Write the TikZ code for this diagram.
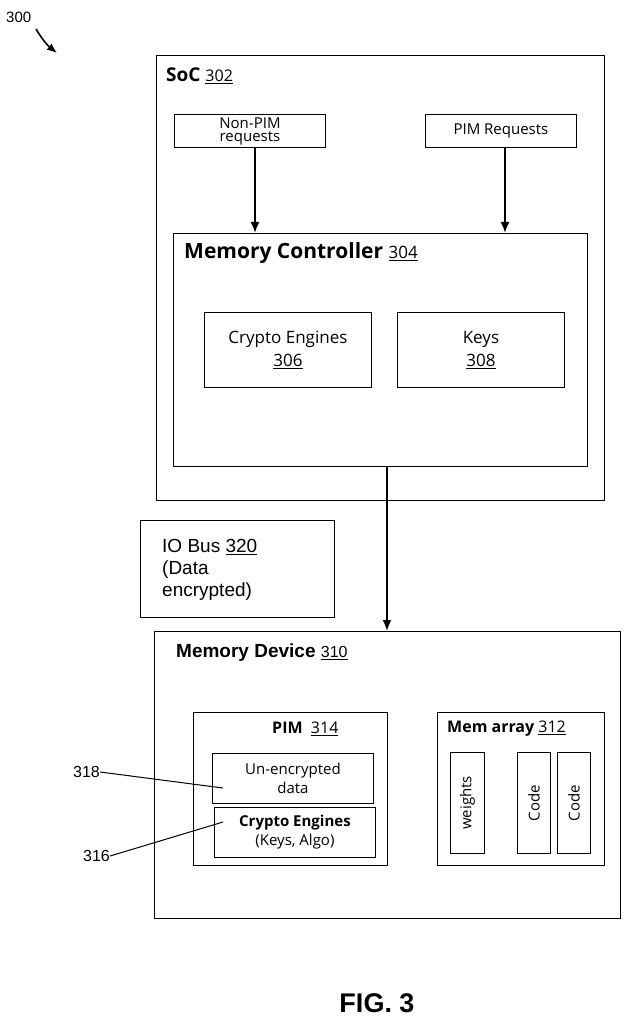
\documentclass[tikz,border=0pt]{standalone}
\usepackage{fontspec}
\usetikzlibrary{arrows.meta}
\setmainfont{Liberation Sans}
\newfontfamily\bx{Open Sans}
\begin{document}
\begin{tikzpicture}[x=1pt,y=-1pt,
  box/.style={draw,line width=0.9pt},
  arr/.style={-{Latex[length=11pt,width=9pt]},line width=1.8pt},
  lbl/.style={inner sep=0pt,anchor=west},
  txt/.style={align=center,inner sep=0pt}]
\useasboundingbox (0,0) rectangle (629,1024);
\node[lbl,font=\fontsize{15}{16}\selectfont] (n300) at (6,17) {300};
\coordinate (a300) at (57,53);
\draw[-{Latex[length=10pt,width=8pt]},line width=1.6pt] (36,29) to[bend right=10] (a300);
% SoC
\node[box,minimum width=448,minimum height=445,anchor=north west] (soc) at (156,55) {};
\node[lbl,font=\bx\fontsize{19}{20}\selectfont] (socl) at (166,76) {\textbf{SoC} {\fontsize{16}{17}\selectfont\underline{302}}};
\node[box,minimum width=151,minimum height=33,anchor=north west] (np) at (174,114) {};
\node[txt,font=\bx\fontsize{15}{13}\selectfont] at (np.center) {Non-PIM\\requests};
\node[box,minimum width=151,minimum height=33,anchor=north west] (pr) at (425,114) {};
\node[txt,font=\bx\fontsize{15}{15}\selectfont] at (pr.center) {PIM Requests};
\node[box,minimum width=414,minimum height=233,anchor=north west] (mc) at (173,233) {};
\node[lbl,font=\bx\fontsize{21}{22}\selectfont] at (184,253) {\textbf{Memory Controller} {\fontsize{17}{18}\selectfont\underline{304}}};
\draw[arr] (np.south -| 255,0) -- (255,233);
\draw[arr] (pr.south -| 505,0) -- (505,233);
\node[box,minimum width=167,minimum height=75,anchor=north west] (ce) at (204,312) {};
\node[txt,font=\bx\fontsize{17}{23}\selectfont] at (ce.center) {Crypto Engines\\\underline{306}};
\node[box,minimum width=167,minimum height=75,anchor=north west] (ky) at (397,312) {};
\node[txt,font=\bx\fontsize{17}{23}\selectfont] at (ky.center) {Keys\\\underline{308}};
% IO bus
\node[box,minimum width=194,minimum height=97,anchor=north west] (io) at (140,520) {};
\node[lbl,anchor=north west,align=left,font=\fontsize{19}{22}\selectfont] at (162,539) {IO Bus \underline{320}\\(Data\\encrypted)};
% Memory device
\node[box,minimum width=466,minimum height=287,anchor=north west] (md) at (154,631) {};
\draw[arr] (mc.south -| 387,0) -- (md.north -| 387,0);
\node[lbl,font=\fontsize{19}{20}\selectfont] at (176,653) {\textbf{Memory Device} {\fontsize{16}{17}\selectfont\underline{310}}};
\node[box,minimum width=194,minimum height=153,anchor=north west] (pim) at (193,712) {};
\node[lbl,font=\bx\fontsize{16}{17}\selectfont] at (272,729) {\textbf{PIM}\ \ \underline{314}};
\node[box,minimum width=161,minimum height=50,anchor=north west] (ue) at (212,753) {};
\node[txt,font=\bx\fontsize{15}{19}\selectfont] at (ue.center) {Un-encrypted\\data};
\node[box,minimum width=161,minimum height=50,anchor=north west] (ce2) at (214,807) {};
\node[txt,font=\bx\fontsize{15}{19}\selectfont] at (ce2.center) {\textbf{Crypto Engines}\\(Keys, Algo)};
\node[box,minimum width=167,minimum height=153,anchor=north west] (ma) at (437,712) {};
\node[lbl,font=\bx\fontsize{16}{17}\selectfont] at (447,729) {\textbf{Mem array} \underline{312}};
\node[box,minimum width=34,minimum height=101,anchor=north west] (w) at (450,752) {};
\node[txt,rotate=90,font=\bx\fontsize{15}{16}\selectfont] at (w.center) {weights};
\node[box,minimum width=33,minimum height=101,anchor=north west] (c1) at (517,752) {};
\node[txt,rotate=90,font=\bx\fontsize{15}{16}\selectfont] at (c1.center) {Code};
\node[box,minimum width=33,minimum height=101,anchor=north west] (c2) at (557,752) {};
\node[txt,rotate=90,font=\bx\fontsize{15}{16}\selectfont] at (c2.center) {Code};
\node[lbl,font=\fontsize{16}{17}\selectfont] (n318) at (73,772) {318};
\coordinate (e318) at (223,788);
\draw[line width=1pt] (n318.east) -- (e318);
\node[lbl,font=\fontsize{16}{17}\selectfont] (n316) at (83,856) {316};
\coordinate (e316) at (223,822);
\draw[line width=1pt] (n316.east) -- (e316);
\node[font=\bfseries\fontsize{27}{29}\selectfont] (fig) at (377,1003) {FIG. 3};
\end{tikzpicture}
\end{document}
